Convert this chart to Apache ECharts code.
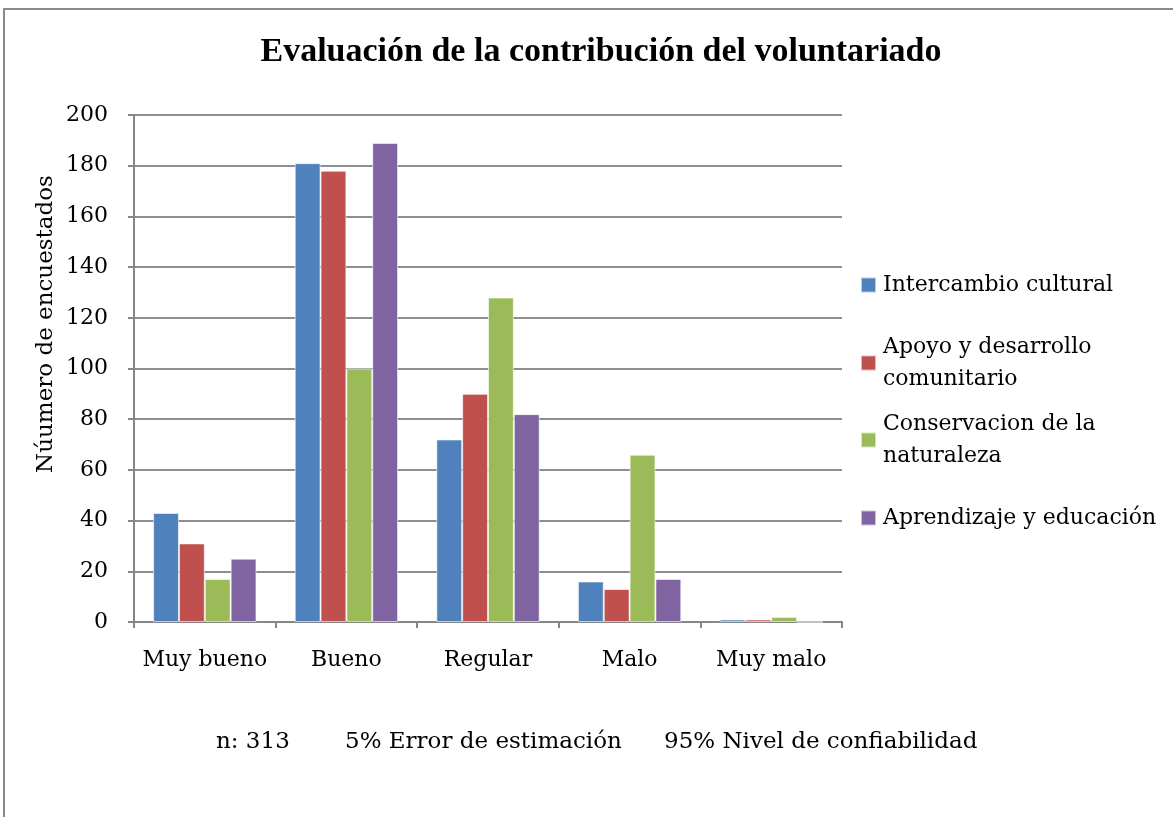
<!DOCTYPE html>
<html><head><meta charset="utf-8">
<script src="https://cdn.jsdelivr.net/npm/echarts@6/dist/echarts.min.js"></script>
<style>
html,body{margin:0;padding:0;background:#fff;}
#frame{position:absolute;left:3px;top:8px;width:1200px;height:840px;border-left:2px solid #8a8a8a;border-top:2px solid #8a8a8a;}
#c{position:absolute;left:0;top:0;width:1173px;height:817px;}
</style></head>
<body>
<div id="frame"></div>
<div id="c"></div>
<script>
const categories = ['Muy bueno', 'Bueno', 'Regular', 'Malo', 'Muy malo'];
const seriesNames = ['Intercambio cultural', 'Apoyo y desarrollo\ncomunitario', 'Conservacion de la\nnaturaleza', 'Aprendizaje y educación'];
const intercambio = [43, 181, 72, 16, 1];
const apoyo = [31, 178, 90, 13, 1];
const conservacion = [17, 100, 128, 66, 2];
const aprendizaje = [25, 189, 82, 17, 0];
const yTicks = [0, 20, 40, 60, 80, 100, 120, 140, 160, 180, 200];
const yAxisTitle = 'Núumero de encuestados';
const footnotes = ['n: 313', '5% Error de estimación', '95% Nivel de confiabilidad'];

const colors = ['#4F81BD', '#C0504D', '#9BBB59', '#8064A2'];
const values = [intercambio, apoyo, conservacion, aprendizaje];
const font = '"DejaVu Serif", "Liberation Serif", serif';
const lib = '"Liberation Serif", serif';
const legendCenters = [285, 363, 440, 518];

const chart = echarts.init(document.getElementById('c'), null, {renderer: 'canvas'});
const legends = seriesNames.map((n, i) => {
  const two = n.indexOf('\n') >= 0;
  return {
    data: [n], orient: 'vertical', left: 860,
    top: legendCenters[i] - (two ? 48 : 16),
    padding: 0, itemWidth: 15, itemHeight: 15, itemGap: 0,
    icon: 'rect', selectedMode: false,
    textStyle: {fontFamily: font, fontSize: 22, color: '#000', lineHeight: 32, padding: two ? [32, 0, 0, 2] : [0, 0, 0, 2]}
  };
});
chart.setOption({
  animation: false,
  title: {text: 'Evaluación de la contribución del voluntariado', left: 596, textAlign: 'center', top: 30,
    textStyle: {fontFamily: lib, fontSize: 34, fontWeight: 'bold', color: '#000'}},
  legend: legends,
  grid: {left: 134, right: 331, top: 115, bottom: 195},
  xAxis: {type: 'category', data: categories,
    axisLine: {lineStyle: {color: '#868686', width: 2}},
    axisTick: {show: true, length: 6, lineStyle: {color: '#868686', width: 2}},
    axisLabel: {fontFamily: font, fontSize: 22, color: '#000', margin: 27, interval: 0}},
  yAxis: {type: 'value', min: 0, max: 200, interval: 20,
    axisLine: {show: true, lineStyle: {color: '#868686', width: 2}},
    axisTick: {show: true, length: 6, lineStyle: {color: '#868686', width: 2}},
    splitLine: {lineStyle: {color: '#8e8e8e', width: 2}},
    axisLabel: {fontFamily: font, fontSize: 22, color: '#000', margin: 26,
      formatter: v => yTicks.includes(v) ? String(v) : ''}},
  series: seriesNames.map((n, i) => ({
    name: n, type: 'bar', data: values[i], barGap: '0%', barCategoryGap: '27%',
    itemStyle: {color: colors[i], borderColor: 'rgba(255,255,255,0.6)', borderWidth: 1}
  })),
  graphic: [
    {type: 'text', x: 46, y: 324, rotation: Math.PI / 2,
      style: {text: yAxisTitle, font: '23px ' + font, fill: '#000', align: 'center', verticalAlign: 'middle'}},
    {type: 'text', left: 216, top: 731, style: {text: footnotes[0], font: '23px ' + font, fill: '#000'}},
    {type: 'text', left: 345, top: 731, style: {text: footnotes[1], font: '23px ' + font, fill: '#000'}},
    {type: 'text', left: 664, top: 731, style: {text: footnotes[2], font: '23px ' + font, fill: '#000'}}
  ]
});
</script>
</body></html>
